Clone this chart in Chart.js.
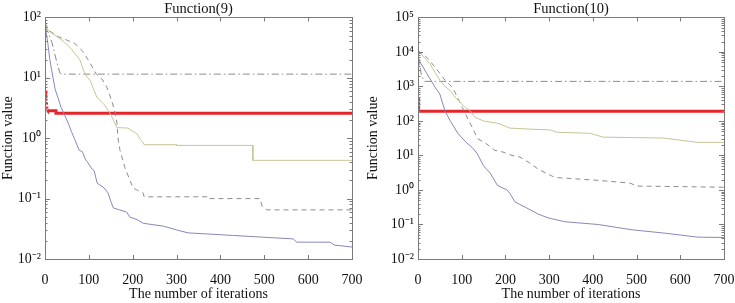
<!DOCTYPE html>
<html>
<head>
<meta charset="utf-8">
<script src="https://cdn.jsdelivr.net/npm/chart.js@4/dist/chart.umd.min.js"></script>
<style>
html,body{margin:0;padding:0;background:#fff;}
#wrap{position:relative;width:735px;height:303px;overflow:hidden;}
canvas{position:absolute;top:0;}
</style>
</head>
<body>
<div id="wrap">
<canvas id="c1" width="365" height="303" style="left:0"></canvas>
<canvas id="c2" width="370" height="303" style="left:365px"></canvas>
</div>
<script>
// ---------- Data ----------
const xTickValues = [0,100,200,300,400,500,600,700];

// Function(9)
const f9Titles = "Function(9)";
const f9BlueX  = [0,5,11,23,37,53,60,68,78,85,92,98,107,112,119,135,144,150,156,170,186,194,210,224,270,300,326,430,566,574,650,660,700];
const f9BlueY  = [70,45,20,6.5,3.2,1.77,1.3,0.95,0.63,0.6,0.45,0.39,0.31,0.29,0.18,0.15,0.123,0.09,0.07,0.065,0.06,0.049,0.045,0.039,0.035,0.0303,0.0271,0.0245,0.0215,0.019,0.019,0.017,0.0158];
const f9DashX  = [0,10,30,50,68,85,100,117,130,141,152,160,164,167,171,182,195,201,209,224,226,370,370,490,495,506,700];
const f9DashY  = [80,60,48,42,37,28,19,11.5,9.5,7,4.2,2.6,1.77,0.93,0.63,0.33,0.19,0.149,0.14,0.123,0.107,0.107,0.1,0.1,0.075,0.065,0.065];
const f9GreenX = [0,8,41,60,80,91,103,118,135,148,156,164,189,200,209,218,224,226,300,300,474,474,700];
const f9GreenY = [75,60,41,30,19.5,11.5,9,4.8,3.6,2.6,2,1.5,1.47,1.3,1.2,0.95,0.83,0.78,0.78,0.76,0.76,0.43,0.43];
const f9DashDotX = [0,8,16,27,34,38,700];
const f9DashDotY = [70,55,38,18,12,11.5,11.5];
const f9RedX = [0,2,4,5,6,25,25,700];
const f9RedY = [6.2,4.6,3.4,2.9,2.85,2.85,2.6,2.6];

// Function(10)
const f10Titles = "Function(10)";
const f10BlueX  = [0,5,20,39,50,62,73,91,110,124,135,150,165,181,190,204,210,222,249,275,298,336,412,490,565,640,700];
const f10BlueY  = [7000,5000,2400,950,600,190,105,44,24,17,11.6,5,3.1,1.4,1.2,1.0,0.8,0.45,0.3,0.2,0.155,0.12,0.1,0.07,0.056,0.043,0.042];
const f10DashX  = [0,20,40,62,80,101,124,137,150,165,176,194,215,233,256,275,302,313,412,485,501,700];
const f10DashY  = [11000,7000,3500,1500,900,250,65,30,25,18,14,12.6,10,9,6,4,2.7,2.3,1.9,1.58,1.3,1.2];
const f10GreenX = [0,27,50,62,73,85,107,119,130,150,183,210,256,302,318,393,423,561,638,700];
const f10GreenY = [11000,4600,1500,1000,770,490,250,200,128,100,85,62,58,55,47,44,34,32,24,24];
const f10DashDotX = [0,3,8,15,700];
const f10DashDotY = [9000,5000,2000,1400,1400];
const f10RedX = [0,1,2,700];
const f10RedY = [460,300,190,190];

const yLabel = "Function value";
const xLabel = "The number of iterations";

// ---------- helpers ----------
const SUP = {'-':'\u207B','0':'\u2070','1':'\u00B9','2':'\u00B2','3':'\u00B3','4':'\u2074','5':'\u2075'};
function powLabel(v){
  const e = Math.log10(v);
  const r = Math.round(e);
  if (Math.abs(e - r) > 1e-9) return '';
  return '10' + String(r).split('').map(c=>SUP[c]).join('');
}
function pts(xs, ys){ return xs.map((x,i)=>({x:x, y:ys[i]})); }

const FONT = "'Liberation Serif','Times New Roman',serif";

const framePlugin = {
  id:'frame',
  afterDraw(chart){
    const {ctx, chartArea:a, scales} = chart;
    const xs = scales.x, ys = scales.y;
    ctx.save();
    ctx.strokeStyle = '#7a7a7a';
    ctx.lineWidth = 1;
    ctx.strokeRect(Math.round(a.left)+0.5, Math.round(a.top)+0.5, Math.round(a.right-a.left), Math.round(a.bottom-a.top));
    ctx.beginPath();
    xTickValues.forEach(v=>{
      const px = Math.round(xs.getPixelForValue(v))+0.5;
      ctx.moveTo(px, a.bottom); ctx.lineTo(px, a.bottom-4);
      ctx.moveTo(px, a.top); ctx.lineTo(px, a.top+4);
    });
    const e0 = Math.round(Math.log10(ys.min)), e1 = Math.round(Math.log10(ys.max));
    for (let e=e0; e<=e1; e++){
      for (let k=1; k<=9; k++){
        const v = k*Math.pow(10,e);
        if (v > ys.max*1.0001) break;
        const py = Math.round(ys.getPixelForValue(v))+0.5;
        const len = (k===1)?5:2.5;
        ctx.moveTo(a.left, py); ctx.lineTo(a.left+len, py);
        ctx.moveTo(a.right, py); ctx.lineTo(a.right-len, py);
      }
    }
    ctx.stroke();
    ctx.restore();
  }
};

function makeChart(id, title, yMin, yMax, yAxisW, padRight, series){
  const ds = [
    {data:pts(series.green[0],series.green[1]), borderColor:'#c6c697', borderWidth:1},
    {data:pts(series.dash[0],series.dash[1]), borderColor:'#8c8c8c', borderWidth:1, borderDash:[5,4]},
    {data:pts(series.dashdot[0],series.dashdot[1]), borderColor:'#8c8c8c', borderWidth:1, borderDash:[7,3,1.5,3]},
    {data:pts(series.blue[0],series.blue[1]), borderColor:'#8888b8', borderWidth:1},
    {data:pts(series.red[0],series.red[1]), borderColor:'#e4262b', borderWidth:3,
      segment:{borderDash: c => (c.p1.parsed.x <= 6 ? [2,2] : undefined)}}
  ];
  ds.forEach(d=>{d.pointRadius=0; d.tension=0; d.fill=false;});
  return new Chart(document.getElementById(id), {
    type:'line',
    data:{datasets:ds},
    options:{
      responsive:false, animation:false,
      layout:{padding:{left:0,right:padRight,top:0,bottom:0}},
      plugins:{
        legend:{display:false}, tooltip:{enabled:false},
        title:{display:true, text:title, fullSize:false, color:'#111',
          font:{family:FONT, size:14.5, weight:'normal', lineHeight:1.2}, padding:{top:0,bottom:0}}
      },
      scales:{
        x:{type:'linear', min:0, max:700,
          grid:{display:false, drawTicks:false}, border:{display:false},
          ticks:{stepSize:100, color:'#111', padding:13, font:{family:FONT,size:14}, maxRotation:0},
          title:{display:true, text:xLabel, color:'#111', font:{family:FONT,size:14, lineHeight:1.0}, padding:{top:0,bottom:2}},
          afterFit(s){ s.height = 44; s.paddingLeft = 0; s.paddingRight = 0; }
        },
        y:{type:'logarithmic', min:yMin, max:yMax,
          grid:{display:false, drawTicks:false}, border:{display:false},
          ticks:{autoSkip:false, color:'#111', padding:4, font:{family:FONT,size:14},
            callback:(v)=>powLabel(v)},
          title:{display:true, text:yLabel, color:'#111', font:{family:FONT,size:14}, padding:{top:0,bottom:0}},
          afterFit(s){ s.width = yAxisW; s.paddingTop = 0; s.paddingBottom = 0; }
        }
      }
    },
    plugins:[framePlugin]
  });
}

makeChart('c1', f9Titles, 0.01, 100, 45, 13, {
  blue:[f9BlueX,f9BlueY], dash:[f9DashX,f9DashY], green:[f9GreenX,f9GreenY],
  dashdot:[f9DashDotX,f9DashDotY], red:[f9RedX,f9RedY]
});
makeChart('c2', f10Titles, 0.01, 100000, 53, 11, {
  blue:[f10BlueX,f10BlueY], dash:[f10DashX,f10DashY], green:[f10GreenX,f10GreenY],
  dashdot:[f10DashDotX,f10DashDotY], red:[f10RedX,f10RedY]
});
</script>
</body>
</html>
